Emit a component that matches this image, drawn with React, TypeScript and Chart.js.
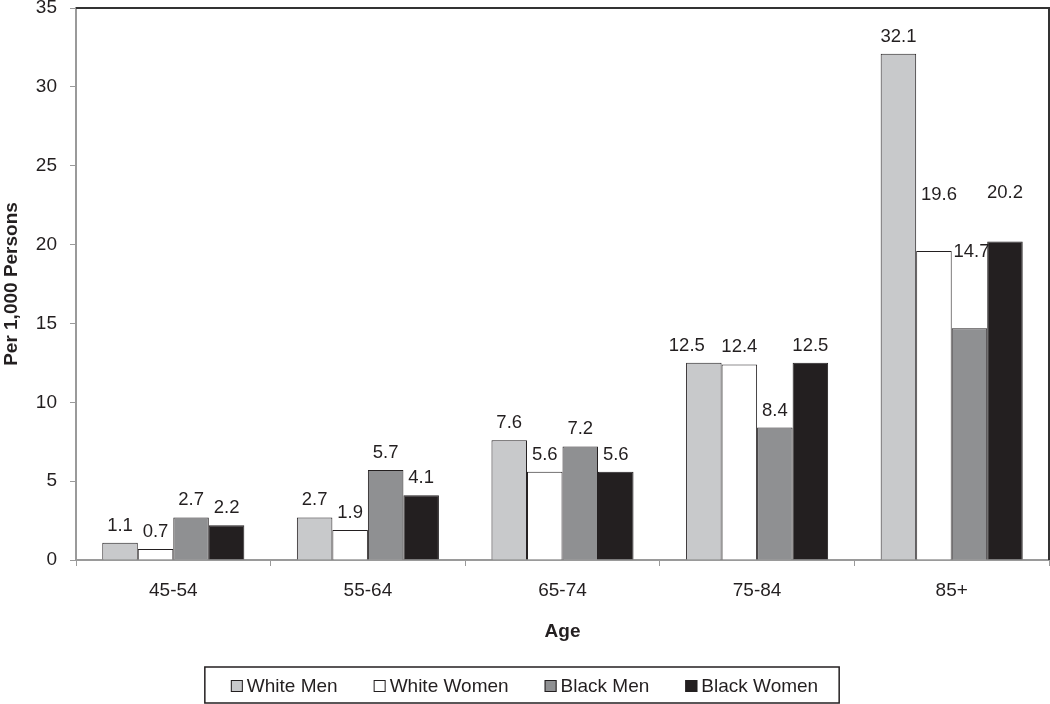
import React, { useEffect, useRef } from "react";
import { Chart, registerables } from "chart.js";

Chart.register(...registerables);

const categories = ["45-54", "55-64", "65-74", "75-84", "85+"];
const whiteMen = [1.1, 2.7, 7.6, 12.5, 32.1];
const whiteWomen = [0.7, 1.9, 5.6, 12.4, 19.6];
const blackMen = [2.7, 5.7, 7.2, 8.4, 14.7];
const blackWomen = [2.2, 4.1, 5.6, 12.5, 20.2];
const seriesNames = ["White Men", "White Women", "Black Men", "Black Women"];
const yTicks = [0, 5, 10, 15, 20, 25, 30, 35];

const colors = ["#c8c9cb", "#ffffff", "#8f9092", "#231f20"];
const FONT = "'Liberation Sans', Arial, sans-serif";
const INK = "#231f20";

// Label nudges (px) for a few value labels placed differently in the original
const labelLift: Record<string, number> = { "1-4": 51, "2-4": 71, "3-4": 43 };
const labelShift: Record<string, number> = { "0-3": -17, "1-4": 5, "2-4": 2 };

const decorPlugin = {
  id: "decor",
  afterDraw(chart: any) {
    const { ctx, chartArea } = chart;
    ctx.save();
    // top and right frame
    ctx.strokeStyle = "#333333";
    ctx.lineWidth = 2;
    ctx.beginPath();
    ctx.moveTo(chartArea.left, chartArea.top);
    ctx.lineTo(chartArea.right, chartArea.top);
    ctx.lineTo(chartArea.right, chartArea.bottom);
    ctx.stroke();

    // value labels
    ctx.font = `18.5px ${FONT}`;
    ctx.fillStyle = INK;
    ctx.textAlign = "center";
    ctx.textBaseline = "alphabetic";
    chart.data.datasets.forEach((ds: any, di: number) => {
      const meta = chart.getDatasetMeta(di);
      meta.data.forEach((bar: any, i: number) => {
        const key = `${di}-${i}`;
        const lift = labelLift[key] ?? 12;
        const shift = labelShift[key] ?? 0;
        ctx.fillText(ds.data[i].toFixed(1), bar.x + shift, bar.y - lift);
      });
    });

    // legend
    ctx.font = `19px ${FONT}`;
    const sq = 12;
    const gap = 4;
    const spacing = 36;
    const widths = chart.data.datasets.map((ds: any) => ctx.measureText(ds.label).width);
    const total =
      widths.reduce((a: number, b: number) => a + b, 0) +
      chart.data.datasets.length * (sq + gap) +
      spacing * (chart.data.datasets.length - 1);
    const padL = 26;
    const padR = 21;
    const boxW = total + padL + padR;
    const boxTop = 667;
    const boxH = 36;
    const boxLeft = 522 - boxW / 2;
    ctx.strokeStyle = INK;
    ctx.lineWidth = 1.5;
    ctx.strokeRect(boxLeft, boxTop, boxW, boxH);
    let x = boxLeft + padL;
    const cy = boxTop + boxH / 2 + 1;
    ctx.textAlign = "left";
    ctx.textBaseline = "middle";
    chart.data.datasets.forEach((ds: any, di: number) => {
      ctx.fillStyle = ds.backgroundColor;
      ctx.fillRect(x, cy - sq / 2, sq, sq);
      ctx.lineWidth = 1;
      ctx.strokeStyle = INK;
      ctx.strokeRect(x + 0.5, cy - sq / 2 + 0.5, sq - 1, sq - 1);
      ctx.fillStyle = INK;
      ctx.fillText(ds.label, x + sq + gap, cy + 1);
      x += sq + gap + widths[di] + spacing;
    });
    ctx.restore();
  },
};

export default function App() {
  const ref = useRef<HTMLCanvasElement | null>(null);
  useEffect(() => {
    document.body.style.margin = "0";
    document.body.style.overflow = "hidden";
    const series = [whiteMen, whiteWomen, blackMen, blackWomen];
    const chart = new Chart(ref.current as HTMLCanvasElement, {
      type: "bar",
      data: {
        labels: categories,
        datasets: series.map((d, i) => ({
          label: seriesNames[i],
          data: d,
          backgroundColor: colors[i],
          borderColor: INK,
          borderWidth: 1,
          barPercentage: 1,
          categoryPercentage: 0.73,
        })),
      },
      options: {
        responsive: false,
        animation: false,
        layout: { padding: { top: 8, right: 1, left: 0, bottom: 0 } },
        plugins: { legend: { display: false }, tooltip: { enabled: false } },
        scales: {
          x: {
            afterFit: (s: any) => {
              s.height = 144;
              s.paddingLeft = 0;
              s.paddingRight = 0;
            },
            grid: { drawOnChartArea: false, tickLength: 6, color: "#9a9a9a", offset: true },
            border: { color: "#9a9a9a", width: 2 },
            ticks: { color: INK, font: { family: FONT, size: 19 }, padding: 13 },
            title: {
              display: true,
              text: "Age",
              color: INK,
              font: { family: FONT, size: 19, weight: "bold" },
              padding: { top: 0, bottom: 61 },
            },
          },
          y: {
            min: 0,
            max: 35,
            afterFit: (s: any) => {
              s.width = 76;
              s.paddingTop = 0;
              s.paddingBottom = 0;
            },
            afterBuildTicks: (s: any) => {
              s.ticks = yTicks.map((v) => ({ value: v }));
            },
            grid: { drawOnChartArea: false, tickLength: 6, color: "#9a9a9a" },
            border: { color: "#9a9a9a", width: 2 },
            ticks: { color: INK, font: { family: FONT, size: 19 }, padding: 13 },
            title: {
              display: true,
              text: "Per 1,000 Persons",
              color: INK,
              font: { family: FONT, size: 19, weight: "bold" },
              padding: { top: 0, bottom: 0 },
            },
          },
        },
      },
      plugins: [decorPlugin],
    });
    return () => chart.destroy();
  }, []);
  return (
    <canvas ref={ref} width={1050} height={704} style={{ display: "block", width: 1050, height: 704 }} />
  );
}
